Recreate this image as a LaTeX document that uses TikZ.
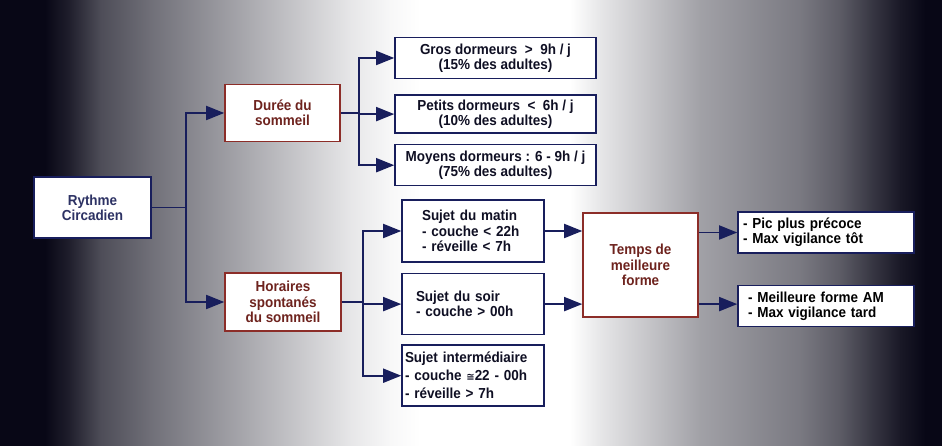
\documentclass[tikz,border=0pt]{standalone}
\usepackage{fontspec}
\setmainfont[FakeStretch=0.93]{Liberation Sans}
\newfontfamily\symfont{DejaVu Sans}
\usepackage{xcolor}
\usepackage{tikz}
\usetikzlibrary{positioning, arrows.meta, calc}

\definecolor{navy}{RGB}{24,30,92}
\definecolor{brick}{RGB}{140,45,40}
\definecolor{brickdark}{RGB}{110,35,30}
\definecolor{slate}{RGB}{45,50,100}
\definecolor{ink}{RGB}{15,15,35}
\definecolor{bgdark}{RGB}{8,7,22}

\begin{document}
\begin{tikzpicture}[
  x=1pt, y=-1pt,
  box/.style={draw=navy, line width=1.6pt, fill=white, align=center, text=ink, inner sep=2pt},
  redbox/.style={box, draw=brick, text=brickdark},
  listbox/.style={box, align=left},
  arrow/.style={-{Triangle[length=18pt, width=14pt]}, navy, line width=1.8pt},
  every node/.style={font=\fontsize{14.5pt}{15.3pt}\selectfont\bfseries}
]
\useasboundingbox (0,0) rectangle (942,446);

% background, dark at both sides
\foreach \xa/\xb/\pa/\pb in {0/45/100/100, 45/70/100/90, 70/100/90/72, 100/150/72/58,
    150/200/58/46, 200/250/46/34, 250/300/34/22, 300/350/22/10, 350/390/10/3,
    390/420/3/0, 420/570/0/0, 570/600/0/10, 600/650/10/24, 650/700/24/38,
    700/750/38/46, 750/800/46/54, 800/840/54/66, 840/870/66/80, 870/900/80/93,
    900/925/93/100, 925/942/100/100}
  \fill[left color=bgdark!\pa!white, right color=bgdark!\pb!white] (\xa,0) rectangle (\xb+0.6,446);

\node[box, minimum width=117pt, minimum height=61pt, text=slate] (rythme) at (92.5,207.5) {Rythme\\Circadien};

\node[redbox, minimum width=115pt, minimum height=57pt] (duree) at (282.5,113) {Durée du\\sommeil};
\node[redbox, minimum width=116pt, minimum height=58pt] (horaires) at (283,302) {Horaires\\spontanés\\du sommeil};

\node[box, minimum width=201pt, minimum height=41pt] (gros) at (495.5,58) {Gros dormeurs~ >~ 9h / j\\(15\% des adultes)};
\node[box, minimum width=201pt, minimum height=38pt, below=15pt of gros] (petits) {Petits dormeurs~ <~ 6h / j\\(10\% des adultes)};
\node[box, minimum width=201pt, minimum height=41pt, below=10pt of petits] (moyens) {Moyens dormeurs : 6 - 9h / j\\(75\% des adultes)};

\node[listbox, text width=102pt, inner xsep=20pt, minimum height=62pt] (matin) at (473,231) {Sujet du matin\\- couche < 22h\\- réveille < 7h};
\node[listbox, text width=114pt, inner xsep=14pt, minimum height=61pt, below=10pt of matin] (soir) {Sujet du soir\\- couche > 00h};
\node[listbox, text width=136pt, inner xsep=3pt, minimum height=61pt, below=9pt of soir,
  font=\fontsize{14.5pt}{18pt}\selectfont\bfseries] (inter) {Sujet intermédiaire\\- couche {\symfont\fontsize{10pt}{10pt}\selectfont ≅}22 - 00h\\- réveille > 7h};

\node[redbox, minimum width=115pt, minimum height=104pt] (temps) at (640.5,265) {Temps de\\meilleure\\forme};

\node[listbox, text width=166pt, inner xsep=5pt, minimum height=41pt, text=black] (pic) at (826,232.5) {- Pic plus précoce\\- Max vigilance tôt};
\node[listbox, text width=156pt, inner xsep=10pt, minimum height=41pt, text=black, below=31pt of pic] (meill) {- Meilleure forme AM\\- Max vigilance tard};

\draw[arrow] (rythme.east) -- ++(34,0) |- (duree.west);
\draw[arrow] (rythme.east) -- ++(34,0) |- (horaires.west);

\draw[arrow] (duree.east) -- ++(18,0) |- (gros.west);
\draw[arrow] (duree.east) -- ++(18,0) |- (petits.west);
\draw[arrow] (duree.east) -- ++(18,0) |- (moyens.west);

\draw[arrow] (horaires.east) -- ++(21,0) |- (matin.west);
\draw[arrow] (horaires.east) -- ++(21,0) |- (soir.west);
\draw[arrow] (horaires.east) -- ++(21,0) |- (inter.west);

\draw[arrow] (matin.east) -- (matin.east -| temps.west);
\draw[arrow] (soir.east) -- (soir.east -| temps.west);

\draw[arrow] (temps.east |- pic.west) -- (pic.west);
\draw[arrow] (temps.east |- soir.east) -- (soir.east -| meill.west);

\end{tikzpicture}
\end{document}
